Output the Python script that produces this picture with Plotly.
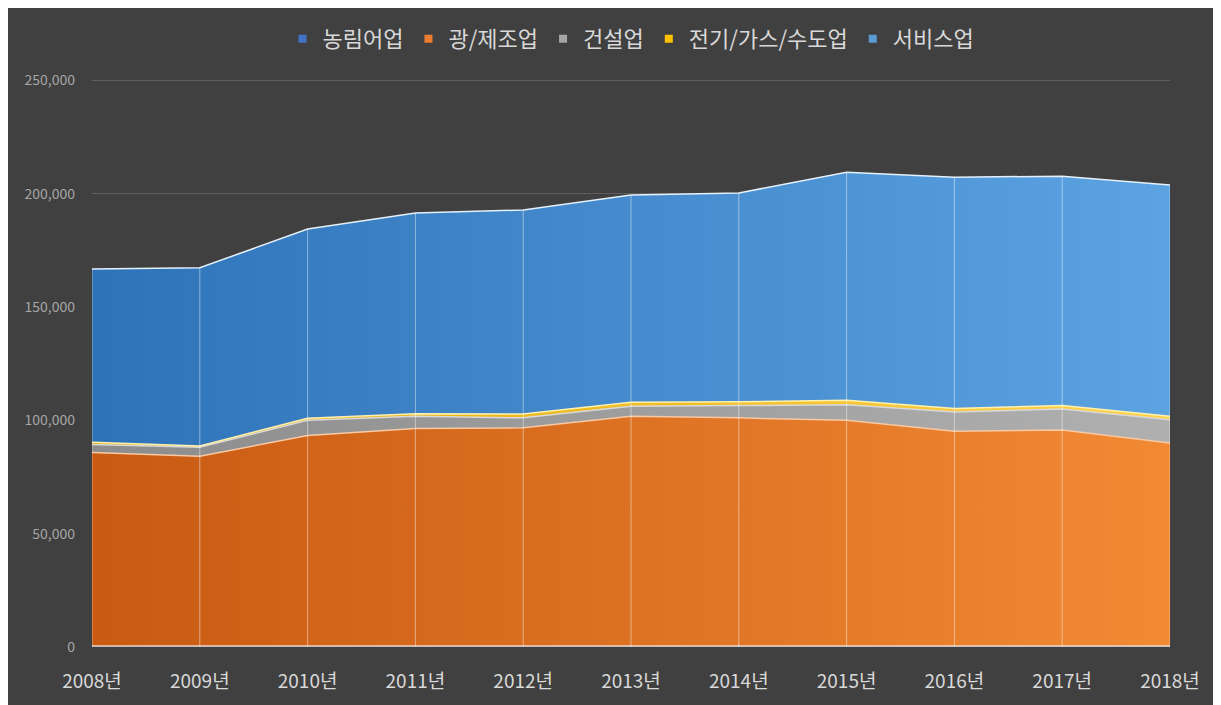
import plotly.graph_objects as go

years = ["2008년", "2009년", "2010년", "2011년", "2012년", "2013년",
         "2014년", "2015년", "2016년", "2017년", "2018년"]

agri = [400, 400, 400, 400, 400, 400, 400, 400, 400, 400, 400]
mfg = [85400, 83800, 92900, 96000, 96300, 101400, 100700, 99600, 94800, 95300, 89600]
constr = [3500, 3900, 6700, 5400, 4400, 4400, 5400, 6900, 8500, 9300, 10300]
util = [1000, 600, 900, 1100, 1700, 1800, 1700, 2000, 1500, 1500, 1500]
service = [76500, 78600, 83500, 88600, 90000, 91400, 92100, 100600, 102100, 101200, 102000]

series_names = ["농림어업", "광/제조업", "건설업", "전기/가스/수도업", "서비스업"]
series_vals = [agri, mfg, constr, util, service]
grad = [
    ("#3A64B0", "#5B8BD8"),
    ("#C85A12", "#F28A34"),
    ("#8C8C8C", "#B0B0B0"),
    ("#E0A800", "#FFD24A"),
    ("#2E73B8", "#5CA3E2"),
]
legend_cols = ["#4472C4", "#ED7D31", "#A5A5A5", "#FFC000", "#5B9BD5"]
line_cols = ["#F3D5C0", "#F7C9A4", "#D9D9D9", "#FFF2B0", "#E4F0FB"]

FONT = "Noto Sans CJK KR"
fig = go.Figure()

xs = list(range(len(years)))
for name, vals, (c1, c2), lc in zip(series_names, series_vals, grad, line_cols):
    fig.add_trace(go.Scatter(
        x=xs, y=vals, name=name, stackgroup="one", mode="lines",
        line=dict(color=lc, width=1.5),
        fillcolor=c2,
        fillgradient=dict(type="horizontal", colorscale=[[0, c1], [1, c2]]),
        hoverinfo="skip", showlegend=False,
    ))

# legend entries with small square markers
for name, col in zip(series_names, legend_cols):
    fig.add_trace(go.Scatter(
        x=[None], y=[None], name=name, mode="markers",
        marker=dict(symbol="square", size=8, color=col),
        showlegend=True, hoverinfo="skip",
    ))

# vertical drop lines at each category
totals = [sum(v) for v in zip(*series_vals)]
vx, vy = [], []
for i, t in enumerate(totals):
    vx += [i, i, None]
    vy += [0, t, None]
fig.add_trace(go.Scatter(x=vx, y=vy, mode="lines", showlegend=False,
                         line=dict(color="rgba(255,255,255,0.45)", width=1),
                         hoverinfo="skip"))

fig.update_layout(
    width=1221, height=705,
    paper_bgcolor="#404040", plot_bgcolor="#404040",
    margin=dict(l=84, r=59, t=71, b=66, autoexpand=False),
    font=dict(family=FONT, color="#D9D9D9"),
    showlegend=True,
    legend=dict(orientation="h", x=0.5, xanchor="center", y=1.0 + 40 / 568, yanchor="middle",
                traceorder="normal",
                font=dict(size=22, color="#D9D9D9", family=FONT),
                itemwidth=30, tracegroupgap=0, bgcolor="rgba(0,0,0,0)"),
    xaxis=dict(tickmode="array", tickvals=xs, ticktext=years, range=[0, len(years) - 1],
               showgrid=False, zeroline=False, showline=False, ticks="",
               ticklabelstandoff=21,
               tickfont=dict(size=19, color="#D9D9D9", family=FONT)),
    yaxis=dict(range=[0, 250600], tickvals=[0, 50000, 100000, 150000, 200000, 250000],
               tickformat=",", showgrid=True, gridcolor="#5E5E5E", gridwidth=1,
               zeroline=False, showline=False, ticks="", ticklabelstandoff=16,
               tickfont=dict(size=14, color="#A6A6A6", family=FONT)),
)

fig.write_html("out.html")
